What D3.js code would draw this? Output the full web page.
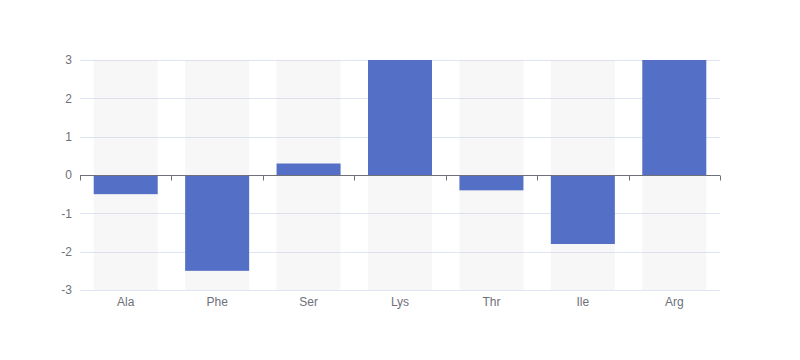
<!DOCTYPE html>
<html>
<head>
<meta charset="utf-8">
<script src="https://cdn.jsdelivr.net/npm/d3@7"></script>
<style>
  body { margin: 0; background: #fff; }
  svg text { font-family: sans-serif; font-size: 12px; fill: #6e7079; }
</style>
</head>
<body>
<svg width="800" height="360"></svg>
<script>
const categories = ["Ala", "Phe", "Ser", "Lys", "Thr", "Ile", "Arg"];
const values = [-0.5, -2.5, 0.3, 3, -0.4, -1.8, 3];
const yTicks = [-3, -2, -1, 0, 1, 2, 3];

const svg = d3.select("svg");
const gridLeft = 80, gridRight = 720, gridTop = 60, gridBottom = 290;

const x = d3.scaleBand().domain(categories).range([gridLeft, gridRight]).paddingInner(0.3).paddingOuter(0.15);
const xEdge = d3.scaleBand().domain(categories).range([gridLeft, gridRight]);
const y = d3.scaleLinear().domain([-3, 3]).range([gridBottom, gridTop]);

// grid lines
svg.append("g")
    .selectAll("line")
    .data(yTicks.filter(d => d !== 0))
    .join("line")
    .attr("x1", gridLeft)
    .attr("x2", gridRight)
    .attr("y1", d => Math.round(y(d)) + 0.5)
    .attr("y2", d => Math.round(y(d)) + 0.5)
    .attr("stroke", "#e0e6f1");

// background bars
svg.append("g")
    .selectAll("rect")
    .data(categories)
    .join("rect")
    .attr("x", d => x(d))
    .attr("y", gridTop)
    .attr("width", x.bandwidth())
    .attr("height", gridBottom - gridTop)
    .attr("fill", "rgba(180,180,180,0.1)");

// bars
svg.append("g")
    .selectAll("rect")
    .data(categories)
    .join("rect")
    .attr("x", d => x(d))
    .attr("y", (d, i) => y(Math.max(0, values[i])))
    .attr("width", x.bandwidth())
    .attr("height", (d, i) => Math.abs(y(values[i]) - y(0)))
    .attr("fill", "#5470c6");

// y labels
svg.append("g")
    .selectAll("text")
    .data(yTicks)
    .join("text")
    .attr("x", gridLeft - 8)
    .attr("y", d => y(d))
    .attr("dy", "0.35em")
    .attr("text-anchor", "end")
    .text(d => d);

// x axis on zero
const zeroY = Math.round(y(0)) + 0.5;
const axis = svg.append("g").attr("stroke", "#6e7079");
axis.append("line")
    .attr("x1", gridLeft).attr("x2", gridRight)
    .attr("y1", zeroY).attr("y2", zeroY);
const edges = categories.map(d => xEdge(d)).concat([gridRight]);
axis.selectAll("line.tick")
    .data(edges)
    .join("line")
    .attr("class", "tick")
    .attr("x1", d => Math.round(d) + 0.5)
    .attr("x2", d => Math.round(d) + 0.5)
    .attr("y1", zeroY)
    .attr("y2", zeroY + 5);

// x labels at bottom
svg.append("g")
    .selectAll("text")
    .data(categories)
    .join("text")
    .attr("x", d => x(d) + x.bandwidth() / 2)
    .attr("y", gridBottom + 12)
    .attr("dy", "0.35em")
    .attr("text-anchor", "middle")
    .text(d => d);
</script>
</body>
</html>
